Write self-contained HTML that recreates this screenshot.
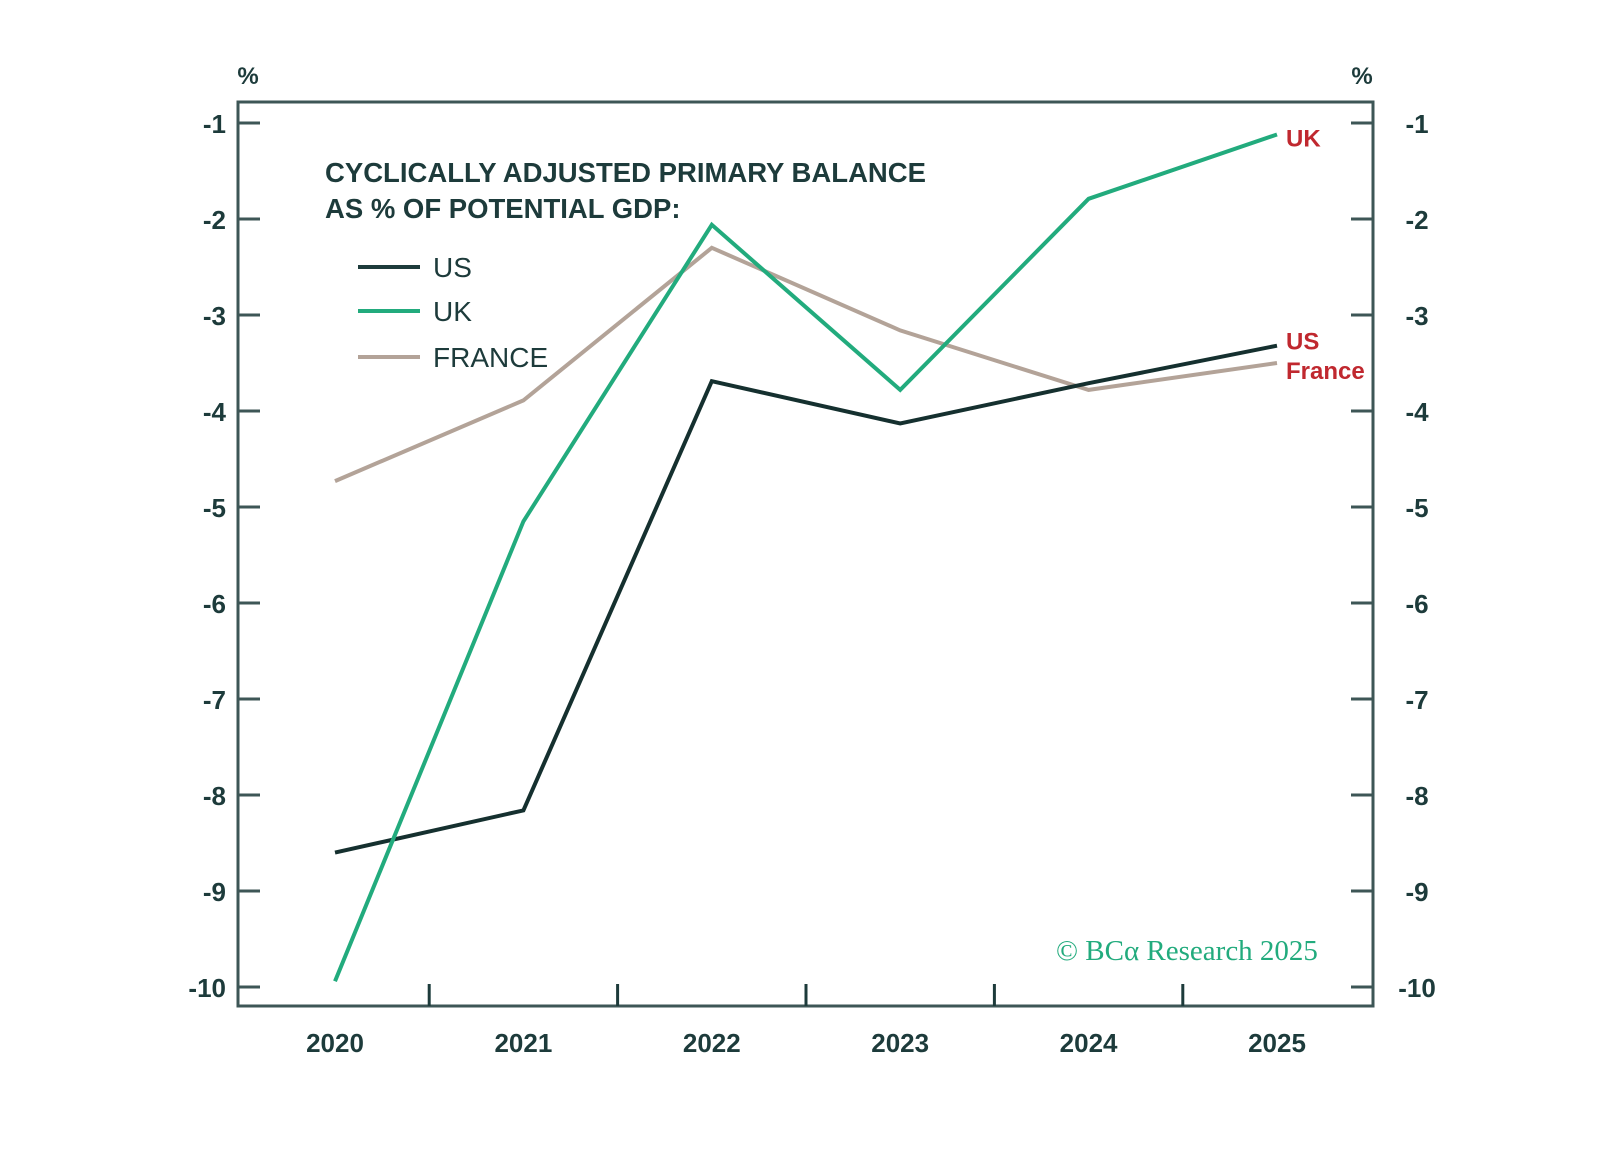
<!DOCTYPE html>
<html><head><meta charset="utf-8"><style>
body{margin:0;background:#fff;}
svg text{font-family:"Liberation Sans",sans-serif;}
</style></head><body>
<svg id="chart" width="1598" height="1144" viewBox="0 0 1598 1144" xmlns="http://www.w3.org/2000/svg">
<g id="axes"></g>
<g id="series"></g>
<g id="legend">
<text x="325" y="182" font-size="27.5" font-weight="600" fill="#1d3b3b">CYCLICALLY ADJUSTED PRIMARY BALANCE</text>
<text x="325" y="218" font-size="27.5" font-weight="600" fill="#1d3b3b">AS % OF POTENTIAL GDP:</text>
<line x1="358" y1="267" x2="420" y2="267" stroke="#1d3b3b" stroke-width="4"/>
<text x="433" y="277" font-size="28" fill="#1d3b3b">US</text>
<line x1="358" y1="311" x2="420" y2="311" stroke="#22ab7d" stroke-width="4"/>
<text x="433" y="321" font-size="28" fill="#1d3b3b">UK</text>
<line x1="358" y1="357" x2="420" y2="357" stroke="#b3a398" stroke-width="4"/>
<text x="433" y="367" font-size="28" fill="#1d3b3b">FRANCE</text>
</g>
<text x="1056" y="960" font-size="29" fill="#22ab7d" style="font-family:'Liberation Serif',serif">© BCα Research 2025</text>
</svg>
<script>
const years = ['2020','2021','2022','2023','2024','2025'];
const usValues = [-8.6, -8.16, -3.69, -4.13, -3.71, -3.32];
const ukValues = [-9.94, -5.15, -2.06, -3.78, -1.79, -1.12];
const franceValues = [-4.73, -3.89, -2.30, -3.16, -3.78, -3.50];
const yTicks = [-1,-2,-3,-4,-5,-6,-7,-8,-9,-10];

const NS='http://www.w3.org/2000/svg';
const L=238,R=1373,T=102,B=1006;
function xs(i){return 335+i*188.4;}
function ys(v){return 123+(-1-v)*96;}
function mk(tag,attrs,parent,text){const e=document.createElementNS(NS,tag);for(const k in attrs)e.setAttribute(k,attrs[k]);if(text!==undefined)e.textContent=text;parent.appendChild(e);return e;}
const ax=document.getElementById('axes');
const ink='#1d3b3b';
let fr=mk('rect',{x:L,y:T,width:R-L,height:B-T,fill:'none',stroke:'#3d5656','stroke-width':3},ax);


yTicks.forEach(v=>{
  const y=ys(v);
  let t1=mk('line',{x1:L,x2:L+22,y1:y,y2:y,stroke:'#3d5656','stroke-width':3},ax);
  
  
  let t2=mk('line',{x1:R-22,x2:R,y1:y,y2:y,stroke:'#3d5656','stroke-width':3},ax);
  
  
  let l1=mk('text',{x:L-12,y:y+10,'text-anchor':'end','font-size':26,'font-weight':'bold',fill:ink},ax,String(v));
  
  
  let l2=mk('text',{x:R+44,y:y+10,'text-anchor':'middle','font-size':26,'font-weight':'bold',fill:ink},ax,String(v));
  
  
});
for(let i=0;i<years.length-1;i++){
  const x=xs(i)+94.2;
  let t=mk('line',{x1:x,x2:x,y1:B-22,y2:B,stroke:ink,'stroke-width':3},ax);
  
  
}
years.forEach((yr,i)=>{
  let t=mk('text',{x:xs(i),y:1052,'text-anchor':'middle','font-size':26,'font-weight':'bold',fill:ink},ax,yr);
  
  
});
let p1=mk('text',{x:248,y:84,'text-anchor':'middle','font-size':24,'font-weight':'bold',fill:ink},ax,'%');


let p2=mk('text',{x:1362,y:84,'text-anchor':'middle','font-size':24,'font-weight':'bold',fill:ink},ax,'%');



const sg=document.getElementById('series');
function line(vals,color,name){
  const pts=vals.map((v,i)=>xs(i).toFixed(1)+','+ys(v).toFixed(1)).join(' ');
  const p=mk('polyline',{points:pts,fill:'none',stroke:color,'stroke-width':4,'stroke-linejoin':'miter'},sg);
  
  
}
line(franceValues,'#b3a398','series-france');
line(usValues,'#15302f','series-us');
line(ukValues,'#22ab7d','series-uk');
const n=years.length-1;
let e1=mk('text',{x:1286,y:ys(ukValues[n])+12,'font-size':24,'font-weight':'bold',fill:'#c0282f'},sg,'UK');


let e2=mk('text',{x:1286,y:ys(usValues[n])+4,'font-size':24,'font-weight':'bold',fill:'#c0282f'},sg,'US');


let e3=mk('text',{x:1286,y:ys(franceValues[n])+16,'font-size':24,'font-weight':'bold',fill:'#c0282f'},sg,'France');


</script>
</body></html>
